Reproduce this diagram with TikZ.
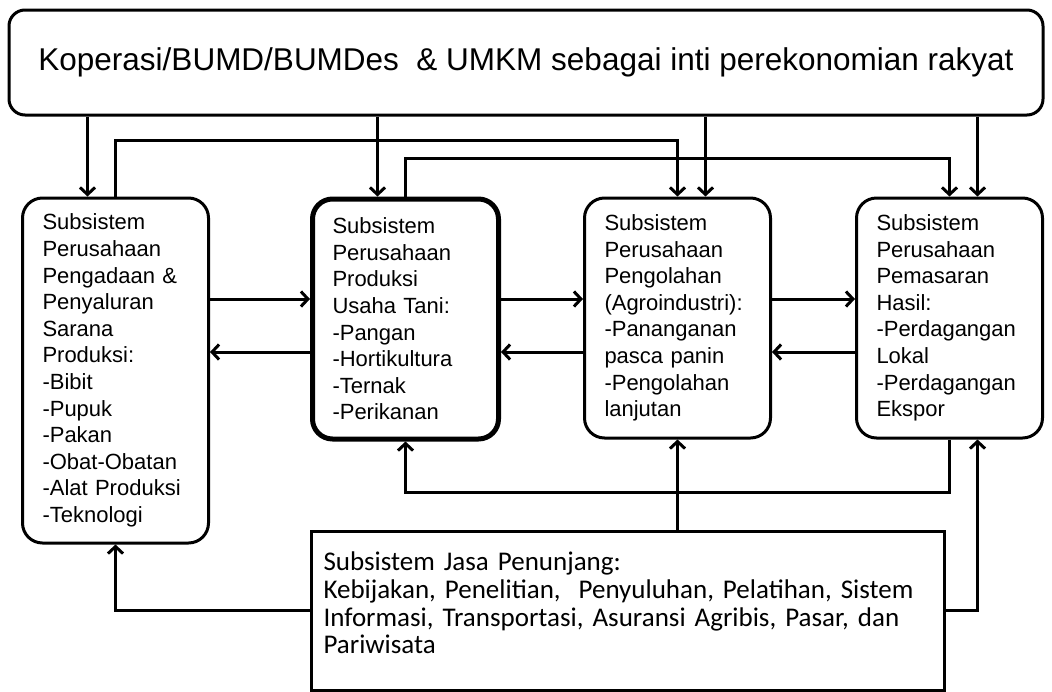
\documentclass[tikz,border=0pt]{standalone}
\usepackage{fontspec}
\setmainfont{Liberation Sans}
\newfontfamily\jasafont{Carlito}
\usetikzlibrary{positioning,arrows.meta}
\def \off {28pt}

\begin{document}
\begin{tikzpicture}[x=1pt,y=1pt,line width=3pt,
    arr/.style={-{Straight Barb[length=7pt,width=15pt]}},
    sub/.style={draw,rounded corners=20pt,align=left,text width=146pt,
      inner xsep=20pt,minimum height=240pt,font=\fontsize{22}{26.6}\selectfont}]
  \useasboundingbox[fill=white] (0,0) rectangle (1052,-691);
  \node[draw,rounded corners=16pt,minimum width=1034pt,minimum height=105pt,
    font=\fontsize{31.5}{38}\selectfont] (koperasi) at (526,-62.5)
    {Koperasi/BUMD/BUMDes~~\& UMKM sebagai inti perekonomian rakyat};
  \node[sub,minimum height=345pt,below right=80pt and 13.5pt of koperasi.south west,anchor=north west] (s1)
    {Subsistem\\Perusahaan\\Pengadaan \&\\Penyaluran\\Sarana\\Produksi:\\-Bibit\\-Pupuk\\-Pakan\\-Obat-Obatan\\-Alat Produksi\\-Teknologi};
  \node[sub,line width=5pt,right=100pt of s1.north east,anchor=north west] (s2)
    {Subsistem\\Perusahaan\\Produksi\\Usaha Tani:\\-Pangan\\-Hortikultura\\-Ternak\\-Perikanan};
  \node[sub,right=82pt of s2.north east,anchor=north west] (s3)
    {Subsistem\\Perusahaan\\Pengolahan\\(Agroindustri):\\-Pananganan\\pasca panin\\-Pengolahan\\lanjutan};
  \node[sub,right=83pt of s3.north east,anchor=north west] (s4)
    {Subsistem\\Perusahaan\\Pemasaran\\Hasil:\\-Perdagangan\\Lokal\\-Perdagangan\\Ekspor};
  \node[draw,align=left,text width=609pt,inner xsep=12pt,minimum height=159pt,
    font=\jasafont\fontsize{27}{27.7}\selectfont,
    below=88pt of s2.south west,anchor=north west] (jasa)
    {Subsistem Jasa Penunjang:\\Kebijakan, Penelitian,~~Penyuluhan, Pelatihan, Sistem\\
     Informasi, Transportasi, Asuransi Agribis, Pasar, dan\\Pariwisata\rule[-15pt]{0pt}{0pt}};
  \coordinate (t1) at ([xshift=-\off]s1.north);
  \coordinate (t2) at ([xshift=-\off]s2.north);
  \coordinate (t3) at ([xshift=\off]s3.north);
  \coordinate (t4) at ([xshift=\off]s4.north);
  \coordinate (r2) at ([yshift=20pt]s2.west);
  \coordinate (l2) at ([yshift=-33pt]s2.west);
  \coordinate (b4) at ([xshift=\off]s4.south);
  \draw[arr] (koperasi.south -| t1) -- (t1);
  \draw[arr] (koperasi.south -| t2) -- (t2);
  \draw[arr] (koperasi.south -| t3) -- (t3);
  \draw[arr] (koperasi.south -| t4) -- (t4);
  \draw[arr] (s1.north) -- ++(0,56.5) -| (s3.north);
  \draw[arr] (s2.north) -- ++(0,38.5) -| (s4.north);
  \draw[arr] (s1.east |- r2) -- (r2);
  \draw[arr] (l2) -- (s1.east |- l2);
  \draw[arr] (s2.east |- r2) -- (s3.west |- r2);
  \draw[arr] (s3.west |- l2) -- (s2.east |- l2);
  \draw[arr] (s3.east |- r2) -- (s4.west |- r2);
  \draw[arr] (s4.west |- l2) -- (s3.east |- l2);
  \draw[arr] (s4.south) -- ++(0,-52.5) -| (s2.south);
  \draw[arr] (jasa.north -| s3.south) -- (s3.south);
  \draw[arr] (jasa.west) -| (s1.south);
  \draw[arr] (jasa.east) -| (b4);
\end{tikzpicture}
\end{document}
